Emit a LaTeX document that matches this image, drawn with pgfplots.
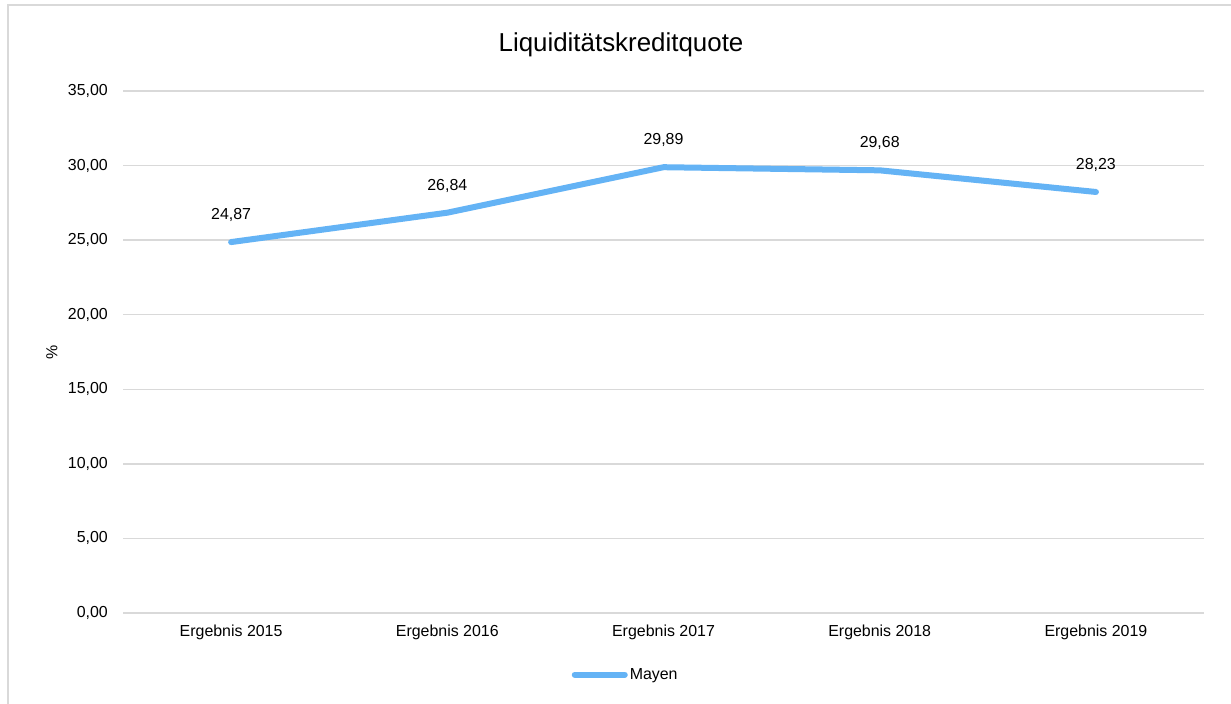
\documentclass[border=0pt]{standalone}
\usepackage{pgfplots}
\pgfplotsset{compat=1.18}
\usepackage{fontspec}
\setmainfont{Liberation Sans}
\definecolor{linecol}{RGB}{100,179,245}
\definecolor{gridcol}{RGB}{217,217,217}
\begin{document}
\begin{tikzpicture}[x=1bp,y=1bp]
\useasboundingbox (0,0) rectangle (1231,704);
\clip (0,0) rectangle (1231,704);
\fill[white] (0,0) rectangle (1231,704);
\draw[gridcol, line width=1.5bp] (8,-20) rectangle (1260,699);
\node[font=\fontsize{26}{30}\selectfont] at (621,659) {Liquiditätskreditquote};
\node[font=\fontsize{16}{19}\selectfont, rotate=90] at (52,352) {\%};
\begin{axis}[
  at={(123bp,91bp)}, anchor=south west,
  width=1081bp, height=522bp, scale only axis,
  xmin=-0.5, xmax=4.5, ymin=0, ymax=35,
  xtick={0,1,2,3,4},
  xticklabels={Ergebnis 2015,Ergebnis 2016,Ergebnis 2017,Ergebnis 2018,Ergebnis 2019},
  ytick={0,5,10,15,20,25,30,35},
  ymajorgrids, major grid style={gridcol, line width=1.5bp},
  axis line style={draw=none},
  major tick length=0,
  tick label style={font=\fontsize{16}{19}\selectfont, inner sep=0pt},
  xticklabel style={yshift=-12bp},
  yticklabel style={xshift=-15bp},
  /pgf/number format/assume math mode=true,
  yticklabel={\pgfmathprintnumber[fixed, fixed zerofill, precision=2, use comma]{\tick}},
  nodes near coords,
  nodes near coords style={font=\fontsize{16}{19}\selectfont, anchor=center, yshift=27bp, text=black,
    /pgf/number format/.cd, fixed, fixed zerofill, precision=2, use comma, assume math mode=true},
  legend style={at={(0.465,-0.118)}, anchor=center, draw=none, fill=none,
    font=\fontsize{16}{19}\selectfont, inner sep=0pt},
  legend image code/.code={\draw[linecol, line width=6bp, line cap=round] (0bp,0bp) -- (50bp,0bp);},
  clip=false,
]
\addplot[linecol, line width=6bp, line cap=round, line join=round, mark=none] coordinates {
  (0,24.87) (1,26.84) (2,29.89) (3,29.68) (4,28.23)
};
\addlegendentry{Mayen}
\end{axis}
\end{tikzpicture}
\end{document}
